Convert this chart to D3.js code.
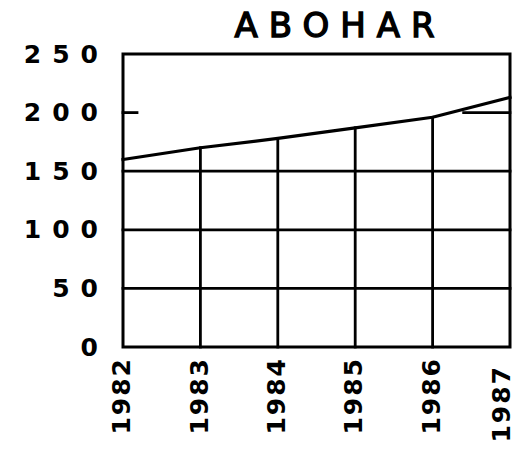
<!DOCTYPE html>
<html>
<head>
<meta charset="utf-8">
<script src="https://cdn.jsdelivr.net/npm/d3@7"></script>
<style>
  body { margin: 0; background: #fff; }
  svg { display: block; }
  text { font-family: "DejaVu Sans", sans-serif; font-weight: bold; fill: #000; }
</style>
</head>
<body>
<svg id="chart" width="529" height="453"></svg>
<script>
// chart data
const title = "ABOHAR";
const years = [1982, 1983, 1984, 1985, 1986, 1987];
const values = [160, 170, 178, 187, 196, 213];
const yTicks = [0, 50, 100, 150, 200, 250];
const gridLevels = [50, 100, 150];

const svg = d3.select("#chart");
const plotLeft = 123, plotRight = 510, plotTop = 54, plotBottom = 347;

const x = d3.scaleLinear().domain([1982, 1987]).range([plotLeft, plotRight]);
const y = d3.scaleLinear().domain([0, 250]).range([plotBottom, plotTop]);

// title
svg.append("text")
    .attr("x", 340)
    .attr("y", 37)
    .attr("text-anchor", "middle")
    .attr("font-size", 34)
    .attr("letter-spacing", 11)
    .style("font-weight", "normal")
    .style("stroke", "#000")
    .style("stroke-width", 1.4)
    .text(title);

const ink = svg.append("g")
    .attr("stroke", "#000")
    .attr("fill", "none")
    .attr("stroke-linecap", "square");

// frame
ink.append("rect")
    .attr("x", plotLeft).attr("y", plotTop)
    .attr("width", plotRight - plotLeft).attr("height", plotBottom - plotTop)
    .attr("stroke-width", 3);

// horizontal grid
ink.selectAll(".hgrid")
    .data(gridLevels)
    .join("line")
    .attr("x1", plotLeft).attr("x2", plotRight)
    .attr("y1", d => y(d)).attr("y2", d => y(d))
    .attr("stroke-width", 2.8);

// short tick at 200 on the left edge
ink.append("line")
    .attr("x1", plotLeft).attr("x2", plotLeft + 14)
    .attr("y1", y(200)).attr("y2", y(200))
    .attr("stroke-width", 2.8);

// short step at 200 near the last year
ink.append("line")
    .attr("x1", x(1986.4)).attr("x2", plotRight)
    .attr("y1", y(200)).attr("y2", y(200))
    .attr("stroke-width", 2.6);

// drop lines from each year up to the curve
ink.selectAll(".drop")
    .data(years.slice(1, -1))
    .join("line")
    .attr("x1", d => x(d)).attr("x2", d => x(d))
    .attr("y1", y(0))
    .attr("y2", (d, i) => y(values[i + 1]))
    .attr("stroke-width", 2.8);

// trend line
const line = d3.line()
    .x((d, i) => x(years[i]))
    .y(d => y(d));

ink.append("path")
    .datum(values)
    .attr("d", line)
    .attr("stroke-width", 3.2)
    .attr("stroke-linejoin", "round");

// y axis labels
const yAxis = d3.axisLeft(y)
    .tickValues(yTicks)
    .tickSize(0)
    .tickPadding(0);

const gy = svg.append("g")
    .attr("transform", `translate(${plotLeft - 25},0)`)
    .call(yAxis);
gy.select(".domain").remove();
gy.selectAll("text")
    .attr("font-size", 25)
    .attr("font-family", "DejaVu Sans, sans-serif")
    .attr("font-weight", "bold")
    .attr("letter-spacing", 11)
    .attr("dx", 11);

// x axis labels, rotated
const xAxis = d3.axisBottom(x)
    .tickValues(years)
    .tickFormat(d3.format("d"))
    .tickSize(0);

const gx = svg.append("g")
    .attr("transform", `translate(0,${plotBottom})`)
    .call(xAxis);
gx.select(".domain").remove();
gx.selectAll("text")
    .attr("font-size", 25)
    .attr("font-family", "DejaVu Sans, sans-serif")
    .attr("font-weight", "bold")
    .attr("text-anchor", "end")
    .attr("letter-spacing", 2)
    .attr("transform", "rotate(-90)")
    .attr("x", -10)
    .attr("y", -2)
    .attr("dy", "0.35em");
gx.selectAll(".tick").filter(d => d === 1987)
    .select("text").attr("x", -18).attr("y", -9);
</script>
</body>
</html>
